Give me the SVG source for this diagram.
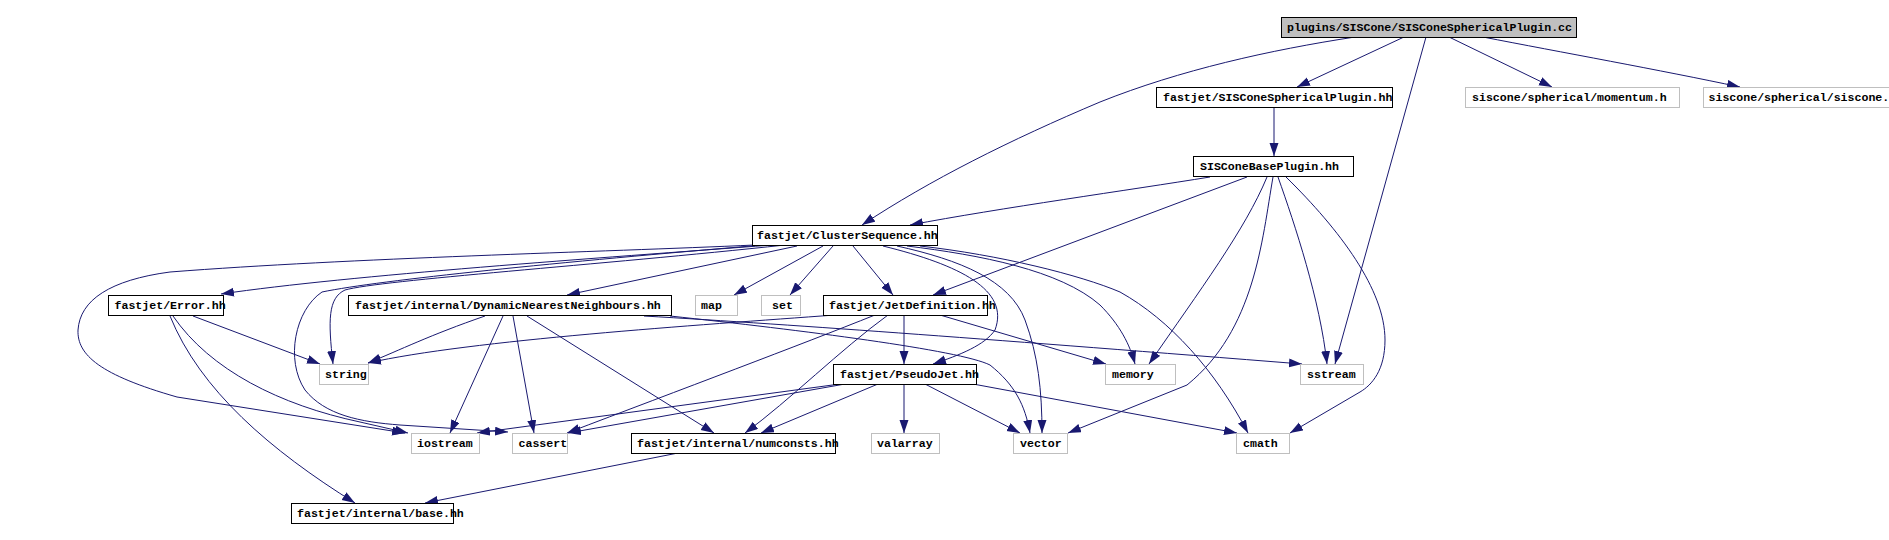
<svg xmlns="http://www.w3.org/2000/svg" width="1889" height="540" viewBox="0 0 1889 540">
<style>
.n rect{fill:#ffffff;stroke:#000000;stroke-width:1}
.u rect{fill:#ffffff;stroke:#bfbfbf;stroke-width:1}
.m rect{fill:#bfbfbf;stroke:#000000;stroke-width:1}
text{font-family:"Liberation Mono","DejaVu Sans Mono",monospace;font-size:11.6px;font-weight:bold;fill:#000000}
.e path{fill:none;stroke:#191970;stroke-width:1;marker-end:url(#a)}
</style>
<defs>
<marker id="a" markerUnits="userSpaceOnUse" markerWidth="15" markerHeight="10" refX="13" refY="4.5" orient="auto"><path d="M0,0 L13,4.5 L0,9 z" fill="#191970"/></marker>
</defs>
<rect x="0" y="0" width="1889" height="540" fill="#ffffff"/>
<g id="edges" class="e">
<path d="M1355,37 C1270,50 1180,70 1100,102 C1010,140 930,180 862,225"/>
<path d="M1404,37 L1297,87"/>
<path d="M1426,37 L1335,364"/>
<path d="M1449,37 L1552,87"/>
<path d="M1483,37 C1560,52 1660,70 1740,87"/>
<path d="M1274,107 L1274,156"/>
<path d="M1210,177 C1130,190 1000,208 910,225"/>
<path d="M1247,177 L933,295"/>
<path d="M1267,177 C1245,230 1200,290 1149,364"/>
<path d="M1273,177 C1262,240 1255,330 1187,385 L1068,433"/>
<path d="M1278,177 C1295,225 1320,300 1327,364"/>
<path d="M1286,177 C1340,230 1385,290 1385,340 C1385,370 1372,385 1360,392 L1290,433"/>
<path d="M823,246 L734,295"/>
<path d="M833,246 L790,295"/>
<path d="M853,246 L893,295"/>
<path d="M883,246 C960,265 1010,290 995,330 C985,345 960,355 933,364"/>
<path d="M897,246 C960,260 1010,280 1025,320 C1038,355 1042,390 1042,433"/>
<path d="M907,246 C980,255 1060,270 1100,305 C1120,325 1130,345 1135,364"/>
<path d="M920,246 C1000,255 1080,275 1120,292 C1170,320 1215,370 1248,433"/>
<path d="M797,246 L567,295"/>
<path d="M772,245 C600,258 350,275 221,294"/>
<path d="M785,245 C600,265 380,280 345,290 C328,298 328,320 333,364"/>
<path d="M763,245 C560,262 380,280 322,292 C295,310 285,360 305,390 C325,415 360,422 400,425 L508,432"/>
<path d="M755,245 C600,252 350,258 170,272 C110,280 80,300 78,330 C77,355 100,375 177,397 L405,433"/>
<path d="M904,315 L904,364"/>
<path d="M940,315 L1106,364"/>
<path d="M835,315 C700,325 470,340 368,363"/>
<path d="M875,315 C800,345 680,390 567,433"/>
<path d="M888,315 C840,350 790,400 745,433"/>
<path d="M904,384 L904,433"/>
<path d="M925,384 L1020,433"/>
<path d="M973,384 L1237,433"/>
<path d="M878,384 L761,433"/>
<path d="M840,384 L477,433"/>
<path d="M845,384 L568,433"/>
<path d="M485,316 C430,335 400,350 368,363"/>
<path d="M503,316 L450,433"/>
<path d="M513,316 L534,433"/>
<path d="M527,316 L714,433"/>
<path d="M644,316 C800,325 1000,340 1302,364"/>
<path d="M670,316 C800,330 960,350 990,365 C1015,385 1025,405 1030,433"/>
<path d="M193,316 L320,364"/>
<path d="M170,316 C200,390 270,450 355,503"/>
<path d="M173,316 C210,370 280,405 360,422 L408,433"/>
<path d="M678,453 L425,503"/>
</g>
<g id="main" class="m"><rect x="1281.5" y="17.5" width="295" height="20"/><text x="1287" y="31" textLength="285" lengthAdjust="spacingAndGlyphs">plugins/SISCone/SISConeSphericalPlugin.cc</text></g>
<g id="sisconesphericalplugin_hh" class="n"><rect x="1156.5" y="87.5" width="236" height="20"/><text x="1163" y="101" textLength="229.4" lengthAdjust="spacingAndGlyphs">fastjet/SISConeSphericalPlugin.hh</text></g>
<g id="momentum_h" class="u"><rect x="1465.5" y="87.5" width="214" height="20"/><text x="1472" y="101" textLength="194.6" lengthAdjust="spacingAndGlyphs">siscone/spherical/momentum.h</text></g>
<g id="siscone_h" class="u"><rect x="1703.5" y="87.5" width="208" height="20"/><text x="1708.5" y="101" textLength="187.7" lengthAdjust="spacingAndGlyphs">siscone/spherical/siscone.h</text></g>
<g id="sisconebaseplugin_hh" class="n"><rect x="1193.5" y="156.5" width="160" height="20"/><text x="1200" y="170" textLength="139" lengthAdjust="spacingAndGlyphs">SISConeBasePlugin.hh</text></g>
<g id="clustersequence_hh" class="n"><rect x="752.5" y="225.5" width="185" height="20"/><text x="757" y="239" textLength="180.7" lengthAdjust="spacingAndGlyphs">fastjet/ClusterSequence.hh</text></g>
<g id="error_hh" class="n"><rect x="108.5" y="295.5" width="115" height="20"/><text x="114.5" y="309" textLength="111.2" lengthAdjust="spacingAndGlyphs">fastjet/Error.hh</text></g>
<g id="dnn_hh" class="n"><rect x="348.5" y="295.5" width="323" height="20"/><text x="355" y="309" textLength="305.8" lengthAdjust="spacingAndGlyphs">fastjet/internal/DynamicNearestNeighbours.hh</text></g>
<g id="map" class="u"><rect x="695.5" y="295.5" width="42" height="20"/><text x="701" y="309" textLength="20.9" lengthAdjust="spacingAndGlyphs">map</text></g>
<g id="set" class="u"><rect x="761.5" y="295.5" width="39" height="20"/><text x="772" y="309" textLength="20.9" lengthAdjust="spacingAndGlyphs">set</text></g>
<g id="jetdefinition_hh" class="n"><rect x="823.5" y="295.5" width="164" height="20"/><text x="829" y="309" textLength="166.8" lengthAdjust="spacingAndGlyphs">fastjet/JetDefinition.hh</text></g>
<g id="string" class="u"><rect x="319.5" y="364.5" width="49" height="20"/><text x="325" y="378" textLength="41.7" lengthAdjust="spacingAndGlyphs">string</text></g>
<g id="memory" class="u"><rect x="1105.5" y="364.5" width="70" height="20"/><text x="1112" y="378" textLength="41.7" lengthAdjust="spacingAndGlyphs">memory</text></g>
<g id="sstream" class="u"><rect x="1300.5" y="364.5" width="63" height="20"/><text x="1307" y="378" textLength="48.7" lengthAdjust="spacingAndGlyphs">sstream</text></g>
<g id="pseudojet_hh" class="n"><rect x="833.5" y="364.5" width="143" height="20"/><text x="840" y="378" textLength="139" lengthAdjust="spacingAndGlyphs">fastjet/PseudoJet.hh</text></g>
<g id="numconsts_hh" class="n"><rect x="631.5" y="433.5" width="204" height="20"/><text x="637" y="447" textLength="201.6" lengthAdjust="spacingAndGlyphs">fastjet/internal/numconsts.hh</text></g>
<g id="valarray" class="u"><rect x="871.5" y="433.5" width="68" height="20"/><text x="877" y="447" textLength="55.6" lengthAdjust="spacingAndGlyphs">valarray</text></g>
<g id="vector" class="u"><rect x="1013.5" y="433.5" width="54" height="20"/><text x="1020" y="447" textLength="41.7" lengthAdjust="spacingAndGlyphs">vector</text></g>
<g id="cmath" class="u"><rect x="1236.5" y="433.5" width="53" height="20"/><text x="1243" y="447" textLength="34.8" lengthAdjust="spacingAndGlyphs">cmath</text></g>
<g id="iostream" class="u"><rect x="411.5" y="433.5" width="68" height="20"/><text x="417" y="447" textLength="55.6" lengthAdjust="spacingAndGlyphs">iostream</text></g>
<g id="cassert" class="u"><rect x="512.5" y="433.5" width="55" height="20"/><text x="518.5" y="447" textLength="48.7" lengthAdjust="spacingAndGlyphs">cassert</text></g>
<g id="base_hh" class="n"><rect x="291.5" y="503.5" width="162" height="20"/><text x="297" y="517" textLength="166.8" lengthAdjust="spacingAndGlyphs">fastjet/internal/base.hh</text></g>
</svg>
